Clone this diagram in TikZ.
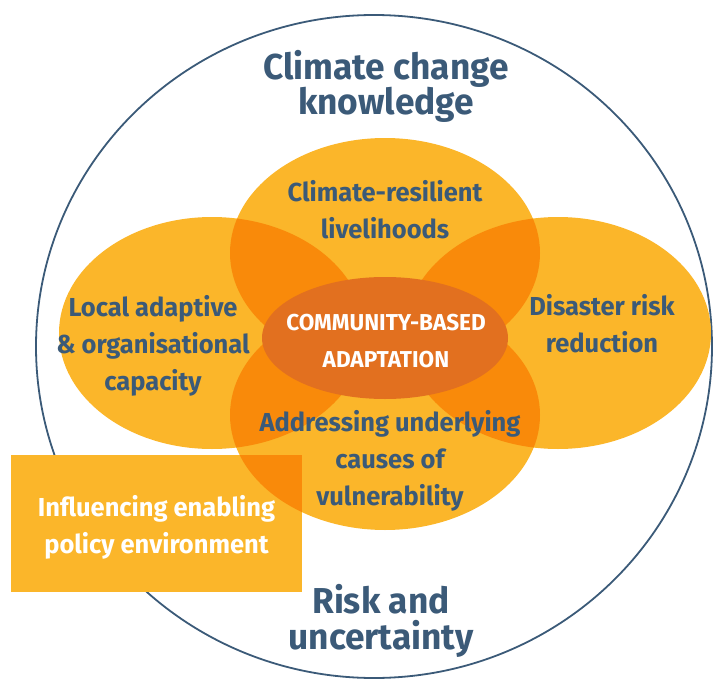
\documentclass[tikz,border=0pt]{standalone}
\usepackage{fontspec}
\usepackage{tikz}
\usetikzlibrary{shapes.geometric}
\newfontfamily\diagfont{Fira Sans}[FakeStretch=0.98]
\definecolor{petalcol}{HTML}{FBB62A}
\definecolor{overlapcol}{HTML}{F98A0A}
\definecolor{corecol}{HTML}{E2701F}
\definecolor{ink}{HTML}{3B5A78}
\tikzset{
	petal/.style={ellipse, fill=petalcol, inner sep=0pt},
	toppetal/.style={petal, minimum width=310pt, minimum height=230pt},
	sidepetal/.style={petal, minimum width=306pt, minimum height=232pt},
	labeltext/.style={font=\diagfont\bfseries\fontsize{26}{37}\selectfont, text=ink, align=center, inner sep=0pt},
	whitetext/.style={labeltext, text=white},
	titletext/.style={labeltext, font=\diagfont\bfseries\fontsize{36}{35.5}\selectfont}
}
\begin{document}
\begin{tikzpicture}[x=1pt,y=-1pt]
	\useasboundingbox (0,0) rectangle (713,680);
	\node[draw=ink, line width=1.8pt, ellipse, inner sep=0pt, minimum width=676pt, minimum height=663pt] (frame) at (374,346.5) {};
	\node[toppetal] (livelihoods) at (385,253) {};
	\node[toppetal] (causes) at (385,415) {};
	\node[sidepetal] (capacity) at (212,333) {};
	\node[sidepetal] (disaster) at (558,333) {};
	\node[fill=petalcol, anchor=north west, inner sep=0pt, minimum width=291pt, minimum height=137pt] (policy) at (11,455) {};
	% overlaps
	\begin{scope}
		\clip (livelihoods.center) ellipse [x radius=155pt, y radius=115pt];
		\fill[overlapcol] (capacity.center) ellipse [x radius=153pt, y radius=116pt];
		\fill[overlapcol] (disaster.center) ellipse [x radius=153pt, y radius=116pt];
		\fill[overlapcol] (causes.center) ellipse [x radius=155pt, y radius=115pt];
	\end{scope}
	\begin{scope}
		\clip (causes.center) ellipse [x radius=155pt, y radius=115pt];
		\fill[overlapcol] (capacity.center) ellipse [x radius=153pt, y radius=116pt];
		\fill[overlapcol] (disaster.center) ellipse [x radius=153pt, y radius=116pt];
		\fill[overlapcol] (policy.north west) rectangle (policy.south east);
	\end{scope}
	\node[ellipse, fill=corecol, inner sep=0pt, minimum width=246pt, minimum height=122pt] (cba) at (385,338) {};
	\node[whitetext, font=\diagfont\bfseries\fontsize{23}{37}\selectfont] (cbatext) at (386,341.5) {COMMUNITY-BASED\\ADAPTATION};
	\node[labeltext] (livelihoodstext) at (385,210) {Climate-resilient\\livelihoods};
	\node[labeltext] (capacitytext) at (153,345.5) {Local adaptive\\\& organisational\\capacity};
	\node[labeltext] (disastertext) at (602,324) {Disaster risk\\reduction};
	\node[labeltext] (causestext) at (390,461) {Addressing underlying\\causes of\\vulnerability};
	\node[whitetext] (policytext) at (156.5,527) {Influencing enabling\\policy environment};
	\node[titletext] (knowledge) at (386,86.5) {Climate change\\knowledge};
	\node[titletext] (risk) at (381,621) {Risk and\\uncertainty};
\end{tikzpicture}
\end{document}
